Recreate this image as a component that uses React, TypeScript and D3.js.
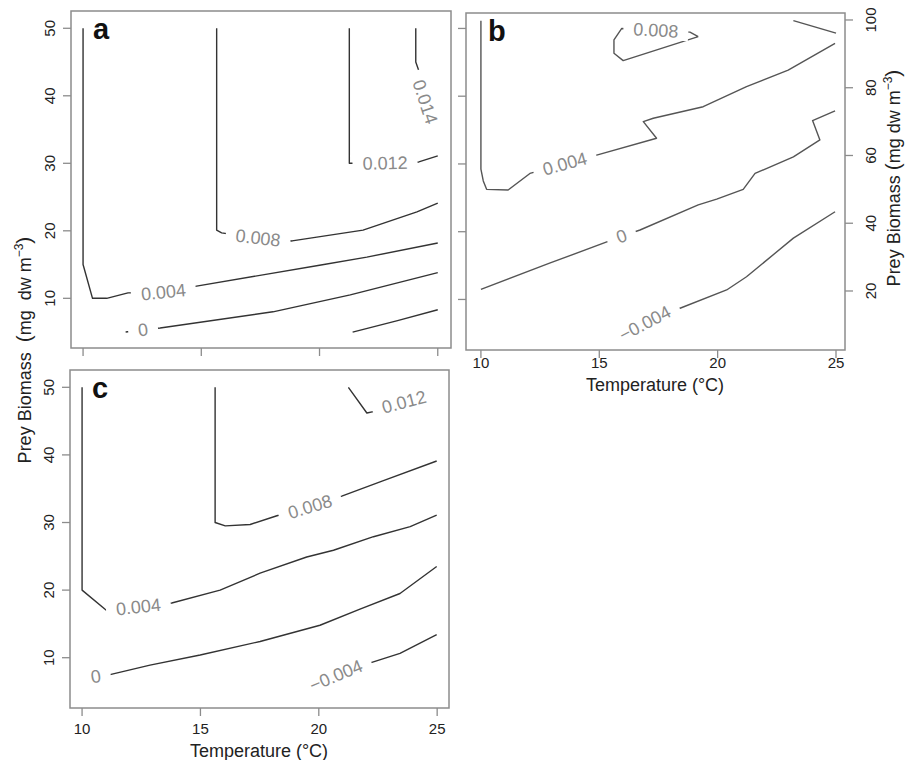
import React from "react";
import * as d3 from "d3";

type Pt = [number, number];
interface Contour { level: string; pts: Pt[] }
interface Label { level: string; t: number; b: number }

// axis ticks
const tempTicks = [10, 15, 20, 25];
const biomassTicks50 = [10, 20, 30, 40, 50];
const biomassTicks100 = [20, 40, 60, 80, 100];
const bLeftTicks = [17.5, 37.5, 57.5, 77.5, 97.5];

// panel a contours (temperature, prey biomass)
const contoursA: Contour[] = [
  { level: "0.004", pts: [[10, 50], [10, 15], [10.4, 10], [11, 10], [11.9, 10.8], [13.4, 10.9], [14.8, 11.8], [20, 14.9], [22, 16.1], [25, 18.2]] },
  { level: "0.008", pts: [[15.65, 50], [15.65, 20.1], [15.86, 19.7], [17.4, 18.9], [18.84, 18.5], [21.84, 20.1], [24.12, 22.8], [25, 24.1]] },
  { level: "0.012", pts: [[21.26, 50], [21.26, 30], [21.4, 30], [22.77, 30], [24.2, 30.2], [25, 31.1]] },
  { level: "0.014", pts: [[24.07, 50], [24.07, 45], [24.2, 43.7], [24.46, 39.1], [25, 35.2]] },
  { level: "0", pts: [[11.8, 5.0], [12.54, 5.3], [13.26, 5.6], [18.03, 8.0], [21.3, 10.5], [25, 13.8]] },
  { level: "−0.004", pts: [[21.4, 5.0], [23.3, 6.7], [25, 8.3]] },
];
const labelsA: Label[] = [
  { level: "0.004", t: 13.4, b: 10.9 },
  { level: "0.008", t: 17.4, b: 18.9 },
  { level: "0.012", t: 22.77, b: 30 },
  { level: "0.014", t: 24.46, b: 39.1 },
  { level: "0", t: 12.54, b: 5.3 },
];

// panel b contours
const contoursB: Contour[] = [
  { level: "0.004", pts: [[10, 99.8], [10, 56], [10.1, 52.5], [10.24, 50], [11.15, 49.8], [12.07, 54.7], [13.55, 57.5], [14.89, 60.1], [17.42, 65.1], [16.86, 70.0], [17.28, 71.0], [19.39, 74.4], [21.22, 80.3], [22.98, 85.2], [24.96, 93.1]] },
  { level: "0.008", pts: [[19.18, 95.1], [18.83, 96.4], [17.39, 96.9], [15.95, 97.5], [15.62, 94.1], [15.62, 90.2], [16.01, 88.0], [19.18, 95.1]] },
  { level: "0.012", pts: [[23.2, 99.8], [25, 96.1]] },
  { level: "0", pts: [[10, 20.5], [12.9, 28.2], [15.94, 36.1], [16.72, 38.0], [19.18, 45.4], [19.96, 47.1], [21.08, 50.0], [21.58, 54.7], [23.2, 59.6], [24.32, 64.6], [24.01, 70.3], [24.96, 73.2]] },
  { level: "−0.004", pts: [[15.7, 5.0], [16.93, 10.4], [18.41, 14.9], [20.38, 20.3], [21.22, 24.2], [23.2, 35.6], [24.96, 43.4]] },
];
const labelsB: Label[] = [
  { level: "0.004", t: 13.55, b: 57.5 },
  { level: "0.008", t: 17.39, b: 96.9 },
  { level: "0", t: 15.94, b: 36.1 },
  { level: "−0.004", t: 16.93, b: 10.4 },
];

// panel c contours
const contoursC: Contour[] = [
  { level: "0.004", pts: [[10, 50], [10, 20], [11.01, 17.05], [12.38, 17.5], [13.79, 18.1], [15.83, 20.0], [17.52, 22.5], [19.49, 24.9], [20.62, 25.9], [22.31, 27.9], [23.86, 29.4], [24.98, 31.1]] },
  { level: "0.008", pts: [[15.62, 50], [15.62, 30], [16.05, 29.5], [17.1, 29.7], [18.23, 31.0], [19.63, 32.3], [20.97, 33.9], [22.73, 36.2], [24.98, 39.1]] },
  { level: "0.012", pts: [[21.25, 50], [22.03, 46.2], [22.3, 46.4], [23.6, 47.8], [24.8, 48.7]] },
  { level: "0", pts: [[10, 6.9], [10.58, 7.2], [11.18, 7.5], [12.87, 8.9], [14.99, 10.4], [17.52, 12.4], [20.05, 14.8], [21.74, 17.2], [23.43, 19.5], [24.98, 23.5]] },
  { level: "−0.004", pts: [[19.49, 5.3], [20.73, 7.34], [22.24, 9.3], [23.43, 10.65], [24.98, 13.4]] },
];
const labelsC: Label[] = [
  { level: "0.004", t: 12.38, b: 17.5 },
  { level: "0.008", t: 19.63, b: 32.3 },
  { level: "0.012", t: 23.6, b: 47.8 },
  { level: "0", t: 10.58, b: 7.2 },
  { level: "−0.004", t: 20.73, b: 7.34 },
];

const FONT = "'Liberation Sans', Arial, Helvetica, sans-serif";
const LABEL_SIZE = 18;
const FRAME = "#8c8c8c";

const textWidth = (s: string, size: number) =>
  s.split("").reduce((w, c) => w + (c === "." ? 0.278 : c === "−" ? 0.584 : 0.556), 0) * size;

interface PanelProps {
  id: string;
  letter: string;
  box: { left: number; right: number; top: number; bottom: number };
  tDomain: [number, number];
  bDomain: [number, number];
  contours: Contour[];
  labels: Label[];
  lineColor: string;
  leftTicks: number[];
  leftLabels: boolean;
  bottomLabels: boolean;
  bottomLabelY: number;
  rightTicks?: number[];
}

const Panel = (p: PanelProps) => {
  const { box } = p;
  const x = d3.scaleLinear().domain(p.tDomain).range([box.left, box.right]);
  const y = d3.scaleLinear().domain(p.bDomain).range([box.bottom, box.top]);
  const line = d3.line<Pt>().x(d => x(d[0])).y(d => y(d[1]));

  // label placement: angle from neighbouring vertices
  const placed = p.labels.map(l => {
    const c = p.contours.find(k => k.level === l.level)!;
    const lx = x(l.t), ly = y(l.b);
    let best = 0, bd = Infinity;
    c.pts.forEach((q, i) => {
      const d = Math.hypot(x(q[0]) - lx, y(q[1]) - ly);
      if (d < bd) { bd = d; best = i; }
    });
    const a = c.pts[Math.max(best - 1, 0)];
    const b = c.pts[Math.min(best + 1, c.pts.length - 1)];
    let ang = (Math.atan2(y(b[1]) - y(a[1]), x(b[0]) - x(a[0])) * 180) / Math.PI;
    if (ang > 90) ang -= 180;
    if (ang < -90) ang += 180;
    return { ...l, lx, ly, ang, w: textWidth(l.level, LABEL_SIZE) };
  });

  return (
    <g>
      <defs>
        {p.contours.map((c, i) => (
          <mask id={`${p.id}-m${i}`} key={i} maskUnits="userSpaceOnUse" x={0} y={0} width={916} height={760}>
            <rect x={0} y={0} width={916} height={760} fill="white" />
            {placed.filter(l => l.level === c.level).map((l, j) => (
              <rect key={j} x={-l.w / 2 - 10} y={-LABEL_SIZE / 2} width={l.w + 20} height={LABEL_SIZE}
                fill="black" transform={`translate(${l.lx},${l.ly}) rotate(${l.ang})`} />
            ))}
          </mask>
        ))}
      </defs>
      {p.contours.map((c, i) => (
        <path key={i} d={line(c.pts) || ""} fill="none" stroke={p.lineColor} strokeWidth={1.4}
          strokeLinejoin="round" mask={`url(#${p.id}-m${i})`} />
      ))}
      {placed.map((l, i) => (
        <text key={i} transform={`translate(${l.lx},${l.ly}) rotate(${l.ang})`} textAnchor="middle"
          dominantBaseline="central" fontSize={LABEL_SIZE} fill="#8a8a8a" fontFamily={FONT}>
          {l.level}
        </text>
      ))}
      <rect x={box.left} y={box.top} width={box.right - box.left} height={box.bottom - box.top}
        fill="none" stroke={FRAME} strokeWidth={1.5} />
      {/* left axis */}
      {p.leftTicks.map(v => (
        <g key={`l${v}`}>
          <line x1={box.left - 8} x2={box.left} y1={y(v)} y2={y(v)} stroke={FRAME} strokeWidth={1.3} />
          {p.leftLabels && (
            <text transform={`translate(${box.left - 16},${y(v)}) rotate(-90)`} textAnchor="middle"
              fontSize={15} fill="#222" fontFamily={FONT}>{v}</text>
          )}
        </g>
      ))}
      {/* bottom axis */}
      {tempTicks.map(v => (
        <g key={`b${v}`}>
          <line x1={x(v)} x2={x(v)} y1={box.bottom} y2={box.bottom + 8} stroke={FRAME} strokeWidth={1.3} />
          {p.bottomLabels && (
            <text x={x(v)} y={p.bottomLabelY} textAnchor="middle" fontSize={15} fill="#222" fontFamily={FONT}>{v}</text>
          )}
        </g>
      ))}
      {/* right axis */}
      {p.rightTicks && p.rightTicks.map(v => (
        <g key={`r${v}`}>
          <line x1={box.right} x2={box.right + 8} y1={y(v)} y2={y(v)} stroke={FRAME} strokeWidth={1.3} />
          <text transform={`translate(${box.right + 31},${y(v)}) rotate(-90)`} textAnchor="middle"
            fontSize={15} fill="#222" fontFamily={FONT}>{v}</text>
        </g>
      ))}
      <text x={box.left + 22} y={box.top + 28} fontSize={29} fontWeight="bold" fill="#111" fontFamily={FONT}>
        {p.letter}
      </text>
    </g>
  );
};

const BiomassTitle = ({ x, y, gap }: { x: number; y: number; gap: string }) => (
  <text transform={`translate(${x},${y}) rotate(-90)`} textAnchor="middle" fontSize={18} fill="#222"
    fontFamily={FONT} style={{ whiteSpace: "pre" }}>
    {`Prey Biomass${gap}`}<tspan fontSize={21}>(</tspan>{`mg${gap}dw m`}<tspan fontSize={12} dy={-8}>−3</tspan>
    <tspan fontSize={21} dy={8}>)</tspan>
  </text>
);

export default function App() {
  return (
    <svg width={916} height={760} style={{ position: "absolute", left: 0, top: 0, background: "#fff" }}>
      <Panel id="pa" letter="a" box={{ left: 71, right: 451, top: 11, bottom: 348 }}
        tDomain={[9.49, 25.56]} bDomain={[2.64, 52.56]} contours={contoursA} labels={labelsA}
        lineColor="#333" leftTicks={biomassTicks50} leftLabels={true} bottomLabels={false} bottomLabelY={0} />
      <Panel id="pb" letter="b" box={{ left: 466, right: 845, top: 13, bottom: 350 }}
        tDomain={[9.37, 25.38]} bDomain={[2.58, 102.06]} contours={contoursB} labels={labelsB}
        lineColor="#555" leftTicks={bLeftTicks} leftLabels={false} bottomLabels={true} bottomLabelY={368}
        rightTicks={biomassTicks100} />
      <Panel id="pc" letter="c" box={{ left: 70, right: 449, top: 370, bottom: 708 }}
        tDomain={[9.49, 25.5]} bDomain={[2.56, 52.56]} contours={contoursC} labels={labelsC}
        lineColor="#333" leftTicks={biomassTicks50} leftLabels={true} bottomLabels={true} bottomLabelY={734} />
      <BiomassTitle x={31} y={350} gap="  " />
      <BiomassTitle x={900} y={178} gap=" " />
      <text x={655} y={391} textAnchor="middle" fontSize={18} fill="#222" fontFamily={FONT}>Temperature (°C)</text>
      <text x={259} y={757} textAnchor="middle" fontSize={18} fill="#222" fontFamily={FONT}>Temperature (°C)</text>
    </svg>
  );
}
